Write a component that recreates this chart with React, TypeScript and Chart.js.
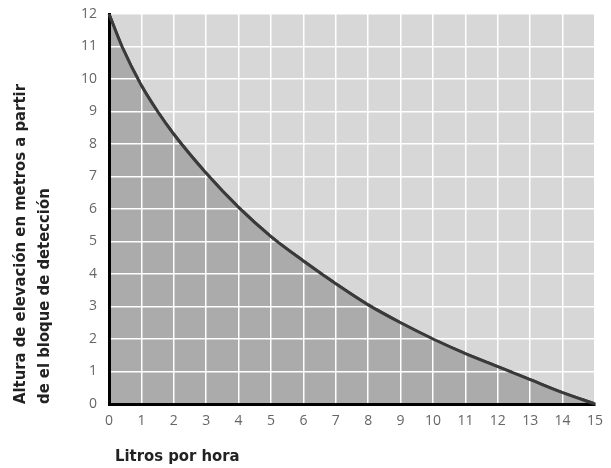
import React, { useEffect, useRef } from "react";
import { Chart, registerables } from "chart.js";

Chart.register(...registerables);

const flowLph = [0, 0.4, 1, 1.5, 2, 3, 4, 5, 6, 7, 8, 9, 10, 11, 12, 13, 14, 15];
const liftM = [12, 11, 9.8, 9.0, 8.3, 7.1, 6.05, 5.15, 4.4, 3.7, 3.05, 2.5, 2.0, 1.55, 1.15, 0.75, 0.35, 0];
const yTitleLines = ["Altura de elevación en metros a partir", "de el bloque de detección"];
const xTitle = "Litros por hora";

const titleFont = '"Liberation Sans Narrow", "DejaVu Sans Condensed", sans-serif';
const tickFont = '"Open Sans", "DejaVu Sans", sans-serif';

export default function App() {
  const ref = useRef<HTMLCanvasElement | null>(null);

  useEffect(() => {
    document.body.style.margin = "0";
    const canvas = ref.current;
    if (!canvas) return;
    const points = flowLph.map((x, i) => ({ x, y: liftM[i] }));

    const bgPlugin = {
      id: "bgPlugin",
      beforeDraw(chart: any) {
        const { ctx, chartArea } = chart;
        ctx.save();
        ctx.fillStyle = "#d7d7d7";
        ctx.fillRect(chartArea.left, chartArea.top, chartArea.right - chartArea.left, chartArea.bottom - chartArea.top);
        ctx.restore();
      },
      afterDraw(chart: any) {
        const { ctx, chartArea } = chart;
        const meta = chart.getDatasetMeta(1);
        ctx.save();
        meta.dataset.draw(ctx, chartArea);
        ctx.restore();
        ctx.save();
        ctx.font = "bold 16.5px " + titleFont;
        ctx.fillStyle = "#222";
        ctx.textBaseline = "middle";
        ctx.textAlign = "left";
        ctx.fillText(xTitle, 115, 457);
        ctx.restore();
      },
    };

    const chart = new Chart(canvas, {
      type: "line",
      data: {
        datasets: [
          {
            data: points,
            borderWidth: 0,
            pointRadius: 0,
            fill: "origin",
            backgroundColor: "#ababab",
            cubicInterpolationMode: "monotone",
          },
          {
            data: points,
            borderWidth: 3,
            borderColor: "#3a3a3a",
            pointRadius: 0,
            fill: false,
            cubicInterpolationMode: "monotone",
          },
        ],
      },
      options: {
        animation: false,
        responsive: false,
        events: [],
        layout: { padding: { top: 14, right: 16, left: 0, bottom: 0 } },
        plugins: { legend: { display: false }, tooltip: { enabled: false } },
        scales: {
          x: {
            type: "linear",
            min: 0,
            max: 15,
            ticks: { stepSize: 1, color: "#666", font: { family: tickFont, size: 14 }, padding: 9 },
            grid: { color: "#ffffff", lineWidth: 1.5, drawTicks: false, z: 1 },
            border: { color: "#000000", width: 3, z: 2 },
            afterFit(scale: any) {
              scale.height = 64;
              scale.paddingRight = 0;
              scale.paddingLeft = 0;
            },
          },
          y: {
            type: "linear",
            min: 0,
            max: 12,
            ticks: { stepSize: 1, color: "#666", font: { family: tickFont, size: 14 }, padding: 12 },
            grid: { color: "#ffffff", lineWidth: 1.5, drawTicks: false, z: 1 },
            border: { color: "#000000", width: 3, z: 2 },
            title: {
              display: true,
              text: yTitleLines,
              align: "start",
              color: "#222",
              font: { family: titleFont, size: 16.5, weight: "bold", lineHeight: 1.5 },
              padding: { top: 8, bottom: 0 },
            },
            afterFit(scale: any) {
              scale.width = 109;
              scale.paddingTop = 0;
              scale.paddingBottom = 0;
            },
          },
        },
      } as any,
      plugins: [bgPlugin],
    });
    return () => chart.destroy();
  }, []);

  return (
    <div style={{ width: 611, height: 468, background: "#fff" }}>
      <canvas ref={ref} width={611} height={468} style={{ width: 611, height: 468, display: "block" }} />
    </div>
  );
}
